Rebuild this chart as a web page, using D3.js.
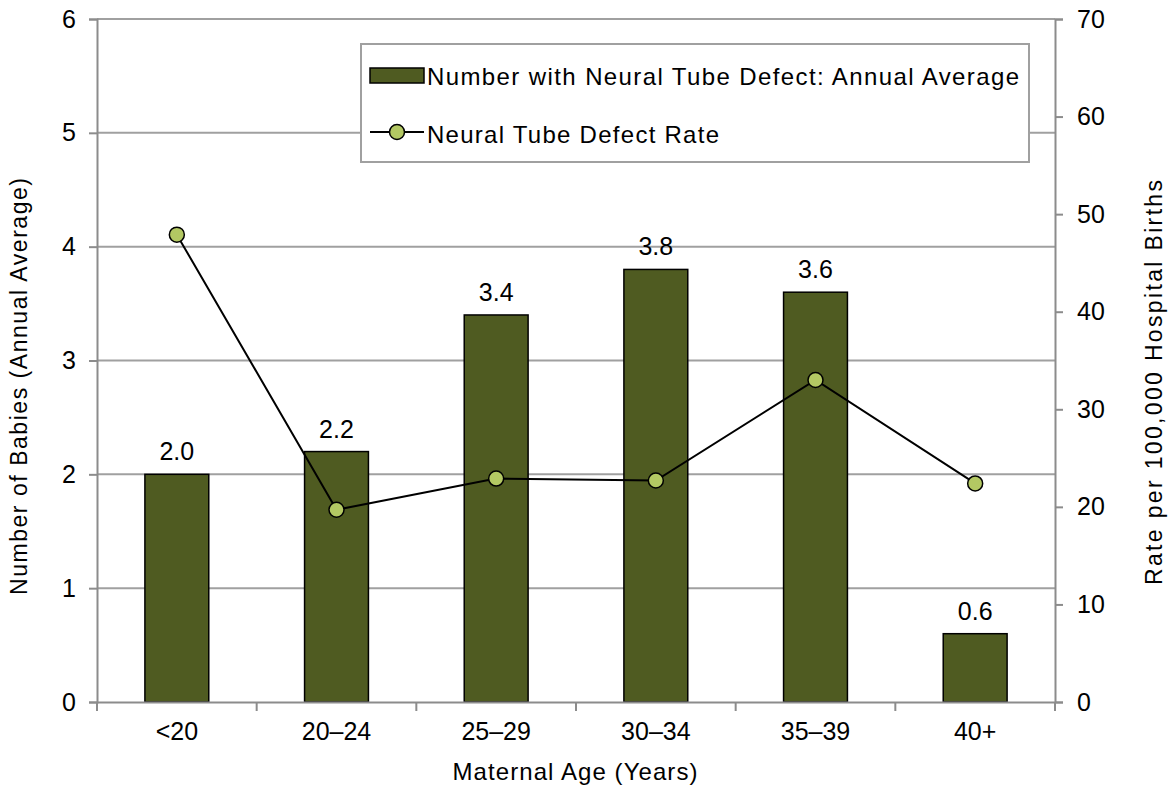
<html>
<meta charset="utf-8">
<body style="margin:0;background:#fff">
<script src="https://d3js.org/d3.v7.min.js"></script>
<div id="chart"></div>
<script>
// data
var ageGroups = ["<20", "20\u201324", "25\u201329", "30\u201334", "35\u201339", "40+"]
var babies = [2.0, 2.2, 3.4, 3.8, 3.6, 0.6]
var rates = [47.9, 19.7, 22.9, 22.7, 33.0, 22.4]
var leftTicks = [0, 1, 2, 3, 4, 5, 6]
var rightTicks = [0, 10, 20, 30, 40, 50, 60, 70]

var W = 1168, H = 785
var margin = {top: 19, right: 113, bottom: 83, left: 97}
var width = W - margin.left - margin.right,
    height = H - margin.top - margin.bottom

var font = "'Liberation Sans', Arial, sans-serif"
var barColor = "#4F5B21", dotColor = "#B3C863", gridColor = "#A0A0A0", axisColor = "#8C8C8C"

var svg = d3.select("#chart").append("svg")
    .attr("width", W).attr("height", H)
    .style("font-family", font)
  .append("g")
    .attr("transform", "translate(" + margin.left + "," + margin.top + ")")

var x = d3.scaleBand().domain(ageGroups).range([0, width]).paddingInner(0).paddingOuter(0)
var y = d3.scaleLinear().domain([0, 6]).range([height, 0])
var y2 = d3.scaleLinear().domain([0, 70]).range([height, 0])

// gridlines
svg.append("g").selectAll("line")
  .data(leftTicks.filter(function(d){ return d > 0 }))
  .enter().append("line")
    .attr("x1", 0).attr("x2", width)
    .attr("y1", function(d){ return y(d) }).attr("y2", function(d){ return y(d) })
    .attr("stroke", gridColor).attr("stroke-width", 2)

// bars
var bw = x.bandwidth() * 0.4
svg.append("g").selectAll("rect")
  .data(babies).enter().append("rect")
    .attr("x", function(d, i){ return x(ageGroups[i]) + x.bandwidth()/2 - bw/2 })
    .attr("y", function(d){ return y(d) })
    .attr("width", bw)
    .attr("height", function(d){ return height - y(d) })
    .attr("fill", barColor).attr("stroke", "#000").attr("stroke-width", 1.5)

// bar labels
svg.append("g").selectAll("text")
  .data(babies).enter().append("text")
    .attr("x", function(d, i){ return x(ageGroups[i]) + x.bandwidth()/2 })
    .attr("y", function(d){ return y(d) - 14 })
    .attr("text-anchor", "middle")
    .style("font-size", "25px")
    .text(function(d){ return d3.format(".1f")(d) })

// left axis
var yAxis = svg.append("g")
  .call(d3.axisLeft(y).tickValues(leftTicks).tickSize(8).tickPadding(13).tickFormat(d3.format("d")))
yAxis.select(".domain").attr("stroke", axisColor).attr("stroke-width", 2)
yAxis.selectAll(".tick line").attr("stroke", axisColor).attr("stroke-width", 2)
yAxis.selectAll("text").style("font-size", "25px").style("font-family", font).attr("fill", "#000")

// right axis
var y2Axis = svg.append("g").attr("transform", "translate(" + width + ",0)")
  .call(d3.axisRight(y2).tickValues(rightTicks).tickSize(8).tickPadding(14).tickFormat(d3.format("d")))
y2Axis.select(".domain").attr("stroke", axisColor).attr("stroke-width", 2)
y2Axis.selectAll(".tick line").attr("stroke", axisColor).attr("stroke-width", 2)
y2Axis.selectAll("text").style("font-size", "25px").style("font-family", font).attr("fill", "#000")

// bottom axis
var xAxis = svg.append("g").attr("transform", "translate(0," + height + ")")
  .call(d3.axisBottom(x).tickSize(0).tickPadding(20))
xAxis.select(".domain").attr("stroke", axisColor).attr("stroke-width", 2)
xAxis.selectAll("text").style("font-size", "25px").style("font-family", font).attr("fill", "#000")
xAxis.append("g").selectAll("line")
  .data(d3.range(ageGroups.length + 1))
  .enter().append("line")
    .attr("x1", function(i){ return i * x.step() }).attr("x2", function(i){ return i * x.step() })
    .attr("y1", 0).attr("y2", 9)
    .attr("stroke", axisColor).attr("stroke-width", 2)

// rate line
var line = d3.line()
  .x(function(d, i){ return x(ageGroups[i]) + x.bandwidth()/2 })
  .y(function(d){ return y2(d) })
svg.append("path").datum(rates)
  .attr("d", line).attr("fill", "none").attr("stroke", "#000").attr("stroke-width", 2)
svg.append("g").selectAll("circle")
  .data(rates).enter().append("circle")
    .attr("cx", function(d, i){ return x(ageGroups[i]) + x.bandwidth()/2 })
    .attr("cy", function(d){ return y2(d) })
    .attr("r", 7.5)
    .attr("fill", dotColor).attr("stroke", "#000").attr("stroke-width", 1.5)

// axis titles
svg.append("text")
  .attr("transform", "translate(" + (-70) + "," + (height/2 + 26) + ") rotate(-90)")
  .attr("text-anchor", "middle").style("font-size", "23px")
  .attr("textLength", 417).attr("lengthAdjust", "spacing")
  .text("Number of Babies (Annual Average)")
svg.append("text")
  .attr("transform", "translate(" + (width + 107) + "," + (height/2 + 22) + ") rotate(-90)")
  .attr("text-anchor", "middle").style("font-size", "23px")
  .attr("textLength", 405).attr("lengthAdjust", "spacing")
  .text("Rate per 100,000  Hospital Births")
svg.append("text")
  .attr("x", width/2 - 1).attr("y", height + 78)
  .attr("text-anchor", "middle").style("font-size", "24px")
  .attr("textLength", 245).attr("lengthAdjust", "spacing")
  .text("Maternal Age (Years)")

// legend
var lg = svg.append("g").attr("transform", "translate(" + (361 - margin.left) + "," + (44 - margin.top) + ")")
lg.append("rect").attr("width", 668).attr("height", 118)
  .attr("fill", "#fff").attr("stroke", "#A0A0A0").attr("stroke-width", 2)
lg.append("rect").attr("x", 9).attr("y", 24).attr("width", 54).attr("height", 15)
  .attr("fill", barColor).attr("stroke", "#000").attr("stroke-width", 1.5)
lg.append("text").attr("x", 66).attr("y", 41).style("font-size", "24px")
  .attr("textLength", 592).attr("lengthAdjust", "spacing")
  .text("Number with Neural Tube Defect: Annual Average")
lg.append("line").attr("x1", 9).attr("x2", 63).attr("y1", 88).attr("y2", 88)
  .attr("stroke", "#000").attr("stroke-width", 2)
lg.append("circle").attr("cx", 36).attr("cy", 88).attr("r", 7.5)
  .attr("fill", dotColor).attr("stroke", "#000").attr("stroke-width", 1.5)
lg.append("text").attr("x", 66).attr("y", 99).style("font-size", "24px")
  .attr("textLength", 292).attr("lengthAdjust", "spacing")
  .text("Neural Tube Defect Rate")
</script>
</body>
</html>
